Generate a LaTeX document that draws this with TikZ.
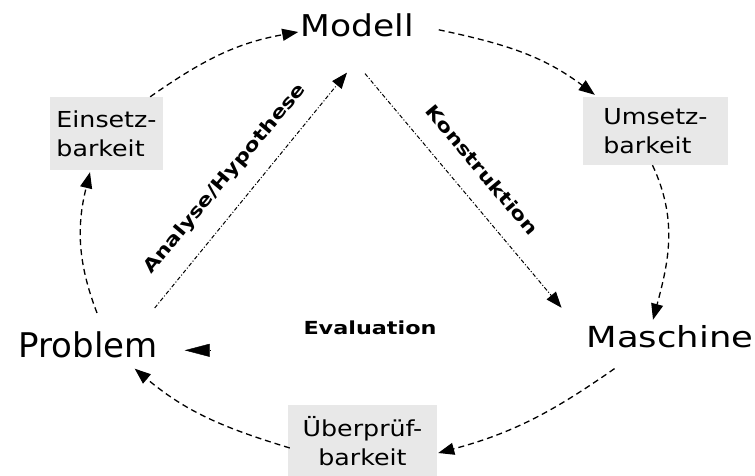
\documentclass[tikz,border=0pt]{standalone}
\usepackage{fontspec}
\setmainfont{DejaVu Sans}
\newfontfamily\fP{DejaVu Sans}
\newfontfamily\fW[FakeStretch=1.15]{DejaVu Sans}
\newfontfamily\fM[FakeStretch=1.22]{DejaVu Sans}
\newfontfamily\fB[FakeStretch=1.24]{DejaVu Sans}
\usetikzlibrary{arrows.meta,calc}
\definecolor{boxgray}{gray}{0.91}
\tikzset{
  bigword/.style={inner sep=0pt, anchor=base},
  graybox/.style={fill=boxgray, inner sep=0pt, font=\fW\fontsize{22}{29}\selectfont},
  lbl/.style={inner sep=0pt, font=\fB\bfseries\fontsize{18}{20}\selectfont},
  tip/.style={-{Triangle[length=16pt,width=12pt]}},
  cycleline/.style={tip, line width=1.3pt, dash pattern=on 6pt off 4pt},
  mainline/.style={tip, line width=1pt, dash pattern=on 4pt off 2pt on 1pt off 2pt},
}
\begin{document}
\begin{tikzpicture}[x=1pt,y=1pt]
\useasboundingbox (0,0) rectangle (755,476);

% main words
\node[bigword, font=\fW\fontsize{30}{36}\selectfont] (Modell) at (357,439) {Modell};
\node[bigword, font=\fP\fontsize{34}{40}\selectfont] (Problem) at (88,118) {Problem};
\node[bigword, font=\fM\fontsize{29}{35}\selectfont] (Maschine) at (670,128) {Maschine};
\node[bigword, font=\fB\bfseries\fontsize{18}{20}\selectfont] (Evaluation) at (370,141) {Evaluation};

% gray boxes
\node[graybox, minimum width=113, minimum height=73, align=left] (Ebox) at (106.5,342.5) {Einsetz-\\barkeit};
\node[graybox, minimum width=145, minimum height=68, align=left] (Ubox) at (655.5,345) {Umsetz-\\barkeit};
\node[graybox, minimum width=149, minimum height=73, align=center] (Obox) at (362.5,34.5) {Überprüf-\\barkeit};

% straight connectors and their labels
\draw[mainline] ([xshift=-3pt,yshift=24pt]Problem.north east) -- ([xshift=-10pt,yshift=-35pt]Modell.south);
\node[lbl, rotate=50] (Analyse) at (225,297) {Analyse/Hypothese};
\draw[mainline] ([xshift=8pt,yshift=-36pt]Modell.south) -- ([xshift=-25pt,yshift=18pt]Maschine.north west);
\node[lbl, rotate=-50] (Konstruktion) at (482,306) {Konstruktion};

% cycle connectors
\draw[cycleline] ([xshift=-13pt]Ebox.north east) to[out=35,in=190] ([xshift=-2pt,yshift=5pt]Modell.base west);
\draw[cycleline] ([xshift=25pt,yshift=-4pt]Modell.east) to[out=-12,in=143] ([xshift=12pt,yshift=2pt]Ubox.north west);
\draw[cycleline] ([xshift=-3pt]Ubox.south) to[out=-65,in=75] ([xshift=-17pt,yshift=6pt]Maschine.north);
\draw[cycleline] ([xshift=28pt,yshift=-20pt]Maschine.south west) to[out=215,in=15] ([xshift=1pt,yshift=-11.5pt]Obox.east);
\draw[cycleline] ([xshift=2pt,yshift=-6.5pt]Obox.west) to[out=163,in=-40] ([xshift=-23pt,yshift=-10pt]Problem.south east);
\draw[cycleline] ([xshift=9pt,yshift=19pt]Problem.north) to[out=111,in=-104] ([xshift=-16.5pt,yshift=-2pt]Ebox.south);

% evaluation arrow
\draw[-{Triangle[length=25pt,width=13pt]}, shorten <=93pt, shorten >=27pt]
  ([yshift=-5pt]Problem.east -| Evaluation.west) -- ([yshift=-5pt]Problem.east);
\end{tikzpicture}
\end{document}
